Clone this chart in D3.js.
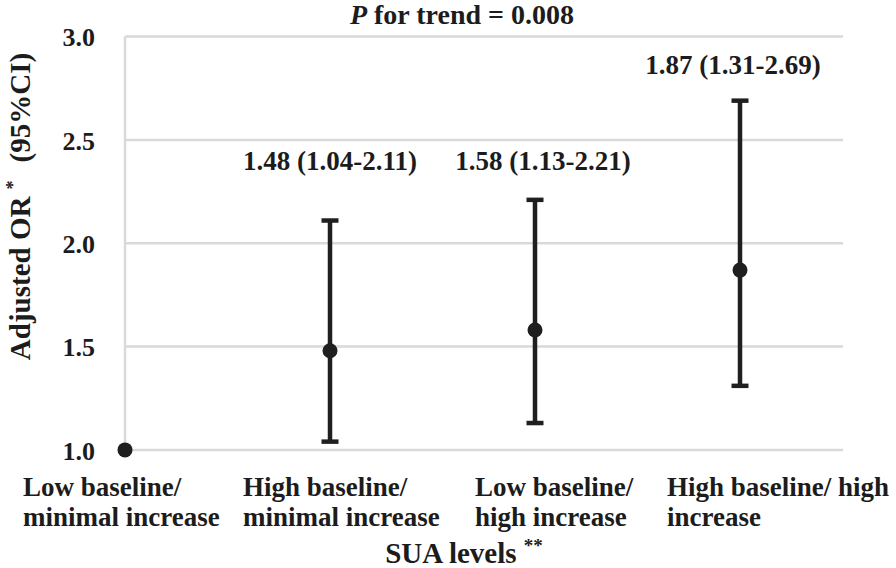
<!DOCTYPE html>
<html><head><meta charset="utf-8">
<script src="https://cdn.jsdelivr.net/npm/d3@7/dist/d3.min.js"></script>
<style>body{margin:0;background:#fff}svg{display:block}text{font-family:"Liberation Serif","Times New Roman",serif;font-weight:bold;fill:#1c1c1c}</style>
</head><body><svg id="c" width="896" height="568"></svg>
<script>
const categories = [["Low baseline/","minimal increase"],["High baseline/","minimal increase"],["Low baseline/","high increase"],["High baseline/ high","increase"]];
const orValues = [1.00, 1.48, 1.58, 1.87];
const lowerCI = [null, 1.04, 1.13, 1.31];
const upperCI = [null, 2.11, 2.21, 2.69];
const pointLabels = [null, "1.48 (1.04-2.11)", "1.58 (1.13-2.21)", "1.87 (1.31-2.69)"];
const yTicks = [1.0, 1.5, 2.0, 2.5, 3.0];

(function(){
const svg = d3.select("#c");
const pL = 125, pR = 843, pT = 36.6, pB = 449.9;
const step = 205;
const x = d3.scaleLinear().domain([0, 3]).range([pL, pL + 3*step]);
const y = d3.scaleLinear().domain([1, 3]).range([pB, pT]);

svg.append("g").selectAll("line").data(yTicks).join("line")
  .attr("x1", pL).attr("x2", pR).attr("y1", d=>y(d)).attr("y2", d=>y(d))
  .attr("stroke", "#d9d9d9").attr("stroke-width", 2.5);
svg.append("line").attr("x1", pL).attr("x2", pL).attr("y1", y(3)).attr("y2", y(1))
  .attr("stroke", "#d9d9d9").attr("stroke-width", 2.5);

const yAxis = d3.axisLeft(y).tickValues(yTicks).tickFormat(d3.format(".1f")).tickSize(0).tickPadding(30);
const gy = svg.append("g").attr("transform", `translate(${pL},0)`).call(yAxis);
gy.select(".domain").remove();
gy.selectAll("text").attr("font-size", 26).attr("font-family", '"Liberation Serif",serif').attr("font-weight","bold").attr("fill","#1c1c1c").attr("dy","0.35em");

const idx = d3.range(orValues.length).filter(i => lowerCI[i] != null);
const eb = svg.append("g").attr("stroke", "#1f1f1f");
eb.selectAll(".v").data(idx).join("line").attr("x1", i=>x(i)).attr("x2", i=>x(i))
  .attr("y1", i=>y(lowerCI[i])).attr("y2", i=>y(upperCI[i])).attr("stroke-width", 4.5);
eb.selectAll(".u").data(idx).join("line").attr("x1", i=>x(i)-8.5).attr("x2", i=>x(i)+8.5)
  .attr("y1", i=>y(upperCI[i])).attr("y2", i=>y(upperCI[i])).attr("stroke-width", 4.5);
eb.selectAll(".l").data(idx).join("line").attr("x1", i=>x(i)-8.5).attr("x2", i=>x(i)+8.5)
  .attr("y1", i=>y(lowerCI[i])).attr("y2", i=>y(lowerCI[i])).attr("stroke-width", 4.5);

svg.append("g").selectAll("circle").data(orValues).join("circle")
  .attr("cx", (d,i)=>x(i)).attr("cy", d=>y(d)).attr("r", 7.5).attr("fill", "#1f1f1f");

const labelDx = [0, 0, 8, -7];
const labelBase = [0, 170, 170, 74];
svg.append("g").selectAll("text").data(idx).join("text")
  .attr("x", i=>x(i)+labelDx[i]).attr("y", i=>labelBase[i]).attr("text-anchor","middle")
  .attr("font-size", 27).text(i=>pointLabels[i]);

const catLeft = [23, 243, 475, 667];
const cg = svg.append("g");
categories.forEach((c, i) => {
  c.forEach((line, j) => {
    cg.append("text").attr("x", catLeft[i]).attr("y", 496 + j*30).attr("font-size", 27).text(line);
  });
});

const t = svg.append("text").attr("x", 462).attr("y", 24).attr("text-anchor","middle").attr("font-size", 28);
t.append("tspan").attr("font-style","italic").text("P");
t.append("tspan").text(" for trend = 0.008");

const xt = svg.append("text").attr("x", 464).attr("y", 563).attr("text-anchor","middle").attr("font-size", 29);
xt.append("tspan").text("SUA levels ");
xt.append("tspan").attr("font-size", 19).attr("dy", -11).text("**");

const yt = svg.append("text").attr("transform", `translate(30,${(50+363)/2}) rotate(-90)`).attr("text-anchor","middle").attr("font-size", 29);
yt.append("tspan").text("Adjusted OR ");
yt.append("tspan").attr("font-size", 18).attr("dy", -11).text("*");
yt.append("tspan").attr("dy", 11).attr("dx", 18).text("(95%CI)");
})();
</script></body></html>
